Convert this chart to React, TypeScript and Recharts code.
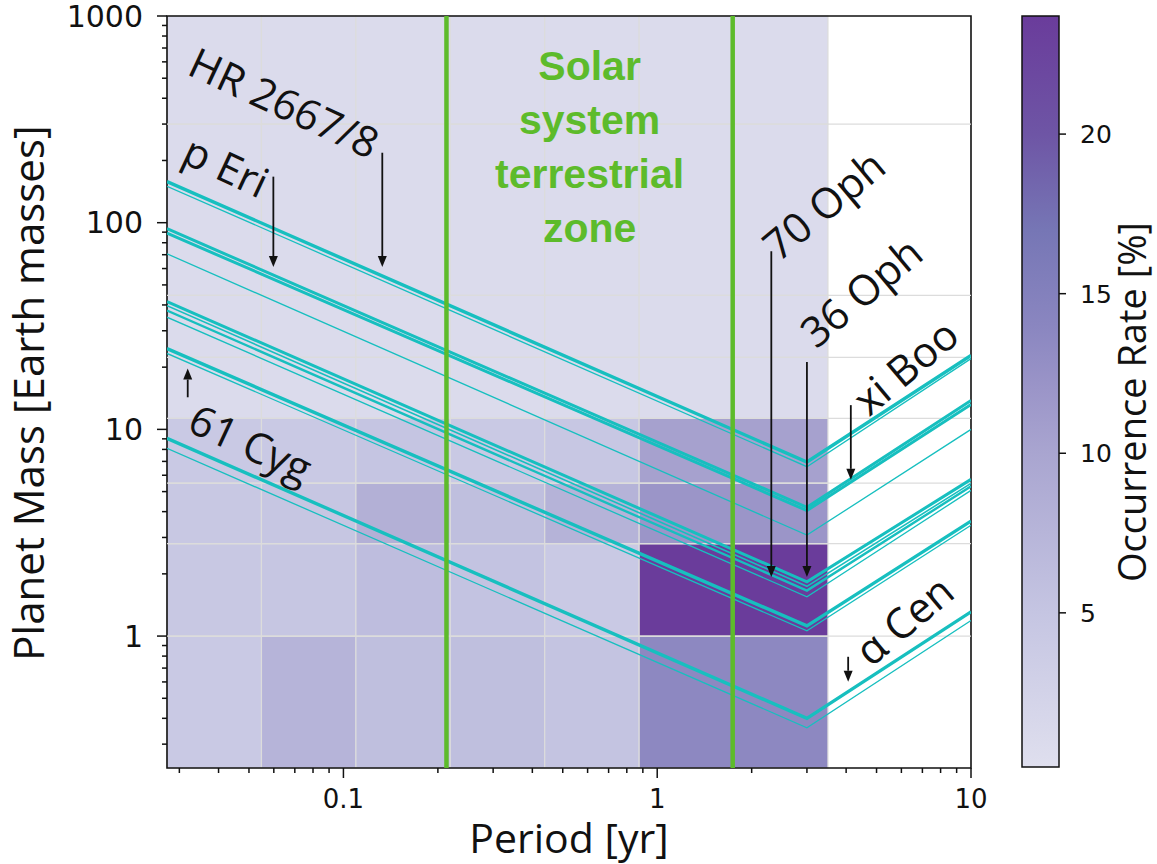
import React from 'react';
import {
  ComposedChart,
  Line,
  XAxis,
  YAxis,
  ReferenceArea,
  ReferenceLine,
  ReferenceDot,
} from 'recharts';

// Occurrence grid: period bins [yr] (10, 20, 40 ... 1280 days) and mass bins [Earth masses]
const periodEdges = [0.0274, 0.0548, 0.1096, 0.219, 0.438, 0.876, 1.75, 3.5];
const massEdges = [0.23, 1, 2.8, 5.5, 11.3, 22.3, 44.5, 300, 1000];

// occurrence rate [%] per mass bin, one value per period bin
const occMass0 = [4.3, 7.6, 6.0, 6.0, 5.2, 13.7, 13.7];
const occMass1 = [4.5, 4.8, 6.2, 5.3, 4.3, 23.7, 23.7];
const occMass2 = [4.5, 4.8, 8.3, 6.0, 7.8, 12.0, 12.0];
const occMass3 = [4.2, 4.2, 5.0, 4.3, 4.6, 10.5, 10.5];
const occMass4 = [1.0, 1.0, 1.0, 1.0, 1.0, 1.0, 1.0];
const occMass5 = [1.0, 1.0, 1.0, 1.0, 1.0, 1.0, 1.0];
const occMass6 = [1.0, 1.0, 1.0, 1.0, 1.0, 1.0, 1.0];
const occMass7 = [1.0, 1.0, 1.0, 1.0, 1.0, 1.0, 1.0];
const occurrenceRows = [occMass0, occMass1, occMass2, occMass3, occMass4, occMass5, occMass6, occMass7];

// detection-limit curves: mass at the left edge, at the turnover period and at 10 yr
const curvePeriods = [0.0274, 3.0, 10];
const curveLeft = [158, 150, 93.5, 89, 70.7, 41.5, 39.7, 37.6, 34.9, 24.6, 23.3, 9.05, 8.1];
const curveTurn = [6.95, 6.6, 4.2, 4.05, 3.08, 1.83, 1.74, 1.66, 1.55, 1.12, 1.06, 0.4, 0.36];
const curveRight = [22.8, 22.0, 13.8, 13.2, 10.0, 5.73, 5.48, 5.3, 5.07, 3.6, 3.44, 1.31, 1.19];
const curveWidth = [3.4, 1.3, 3, 3, 1.3, 3, 1.6, 2.4, 1.3, 3.4, 1.3, 3.4, 1.3];

// solar-system terrestrial zone boundaries [yr]
const zoneEdges = [0.213, 1.74];
const zoneLines = ['Solar', 'system', 'terrestrial', 'zone'];

// star labels and the arrows pointing at their curves
const starNames = ['HR 2667/8', 'p Eri', '61 Cyg', '70 Oph', '36 Oph', 'xi Boo', 'α Cen'];
const starLabelPeriod = [0.0314, 0.0301, 0.0314, 2.44, 3.21, 4.73, 4.8];
const starLabelMass = [525, 197, 9.9, 64, 24.3, 11.4, 0.7];
const starLabelAngle = [25, 25, 25, -40, -40, -40, -40];
const arrowPeriod = [0.133, 0.0598, 0.0319, 2.31, 3.0, 4.14, 4.06];
const arrowFrom = [218, 167, 14.3, 72.8, 21.2, 13.1, 0.794];
const arrowTo = [61, 61, 19.7, 1.93, 1.93, 5.7, 0.601];

const periodTicks = [
  0.03, 0.04, 0.05, 0.06, 0.07, 0.08, 0.09, 0.1,
  0.2, 0.3, 0.4, 0.5, 0.6, 0.7, 0.8, 0.9, 1,
  2, 3, 4, 5, 6, 7, 8, 9, 10,
];
const massTicks = [
  0.3, 0.4, 0.5, 0.6, 0.7, 0.8, 0.9, 1,
  2, 3, 4, 5, 6, 7, 8, 9, 10,
  20, 30, 40, 50, 60, 70, 80, 90, 100,
  200, 300, 400, 500, 600, 700, 800, 900, 1000,
];
const colorbarTicks = [5, 10, 15, 20];

// colour map of the occurrence rate
const cmapValues = [0.17, 5, 10, 12, 14, 17, 20, 23.7];
const cmapColors = ['#dfdfee', '#c5c5e2', '#a9a5d0', '#9b95c8', '#8a86c0', '#7676b5', '#6e55a5', '#6a3c9b'];
const CMIN = cmapValues[0];
const CMAX = cmapValues[cmapValues.length - 1];

const CYAN = '#17bfbf';
const GREEN = '#5dbb2b';
const INK = '#111';
const SANS = '"Open Sans", sans-serif';
const TICK_FONT = '"DejaVu Sans", sans-serif';

const hexToRgb = (h: string) => [1, 3, 5].map((i) => parseInt(h.slice(i, i + 2), 16));

function occurrenceColor(v: number) {
  let i = 0;
  while (i < cmapValues.length - 2 && v > cmapValues[i + 1]) i++;
  const t = Math.min(1, Math.max(0, (v - cmapValues[i]) / (cmapValues[i + 1] - cmapValues[i])));
  const a = hexToRgb(cmapColors[i]);
  const b = hexToRgb(cmapColors[i + 1]);
  const c = a.map((x, k) => Math.round(x + (b[k] - x) * t));
  return `rgb(${c[0]},${c[1]},${c[2]})`;
}

const isDecade = (v: number) => Math.abs(Math.log10(v) - Math.round(Math.log10(v))) < 1e-9;

function PeriodTick({ x, y, payload }: any) {
  const major = isDecade(payload.value);
  return (
    <g>
      <line x1={x} x2={x} y1={y} y2={y + (major ? 10 : 5)} stroke={INK} strokeWidth={1.5} />
      {major && (
        <text x={x} y={y + 40} textAnchor="middle" fontFamily={TICK_FONT} fontSize={26} fill={INK}>
          {String(payload.value)}
        </text>
      )}
    </g>
  );
}

function MassTick({ x, y, payload }: any) {
  const major = isDecade(payload.value);
  return (
    <g>
      <line x1={x - (major ? 10 : 5)} x2={x} y1={y} y2={y} stroke={INK} strokeWidth={1.5} />
      {major && (
        <text x={x - 24} y={y} dy="0.36em" textAnchor="end" fontFamily={TICK_FONT} fontSize={30} fill={INK}>
          {String(payload.value)}
        </text>
      )}
    </g>
  );
}

function ColorbarTick({ x, y, payload }: any) {
  return (
    <g>
      <line x1={x} x2={x + 7} y1={y} y2={y} stroke={INK} strokeWidth={1.5} />
      <text x={x + 21} y={y} dy="0.36em" fontFamily={TICK_FONT} fontSize={25} fill={INK}>
        {String(payload.value)}
      </text>
    </g>
  );
}

function Arrow({ x1, y1, x2, y2 }: any) {
  const dir = Math.sign(y2 - y1) || 1;
  const head = 11;
  return (
    <g>
      <line x1={x1} y1={y1} x2={x2} y2={y2 - dir * head} stroke={INK} strokeWidth={1.8} />
      <polygon
        points={`${x2},${y2} ${x2 - 4.5},${y2 - dir * head} ${x2 + 4.5},${y2 - dir * head}`}
        fill={INK}
      />
    </g>
  );
}

const curves = curveLeft.map((_, i) => [
  { p: curvePeriods[0], m: curveLeft[i] },
  { p: curvePeriods[1], m: curveTurn[i] },
  { p: curvePeriods[2], m: curveRight[i] },
]);

export default function App() {
  return (
    <div style={{ position: 'absolute', left: 0, top: 0, width: 1157, height: 864, background: '#fff' }}>
      <svg width={0} height={0} style={{ position: 'absolute' }}>
        <defs>
          <linearGradient id="occurrenceGradient" x1="0" y1="1" x2="0" y2="0">
            {cmapValues.map((v, i) => (
              <stop key={v} offset={(v - CMIN) / (CMAX - CMIN)} stopColor={cmapColors[i]} />
            ))}
          </linearGradient>
        </defs>
      </svg>

      <div style={{ position: 'absolute', left: 0, top: 0 }}>
        <ComposedChart width={1000} height={864} margin={{ top: 16, right: 29, bottom: 0, left: 0 }}>
          <XAxis
            dataKey="p"
            type="number"
            scale="log"
            domain={[0.0274, 10]}
            allowDataOverflow
            ticks={periodTicks}
            interval={0}
            tickSize={0}
            tickMargin={0}
            tickLine={false}
            axisLine={false}
            tick={<PeriodTick />}
            height={96}
            label={{
              content: ({ viewBox }: any) => (
                <text
                  x={viewBox.x + viewBox.width / 2}
                  y={viewBox.y + 85}
                  textAnchor="middle"
                  fontFamily={SANS}
                  fontSize={41}
                  fill={INK}
                >
                  Period [yr]
                </text>
              ),
            }}
          />
          <YAxis
            dataKey="m"
            type="number"
            scale="log"
            domain={[0.23, 1000]}
            allowDataOverflow
            ticks={massTicks}
            interval={0}
            tickSize={0}
            tickMargin={0}
            tickLine={false}
            axisLine={false}
            tick={<MassTick />}
            width={167}
            label={{
              content: ({ viewBox }: any) => {
                const cx = viewBox.x + 44;
                const cy = viewBox.y + viewBox.height / 2 + 1;
                return (
                  <text
                    x={cx}
                    y={cy}
                    transform={`rotate(-90 ${cx} ${cy})`}
                    textAnchor="middle"
                    fontFamily={SANS}
                    fontSize={42}
                    fill={INK}
                  >
                    Planet Mass [Earth masses]
                  </text>
                );
              },
            }}
          />

          {occurrenceRows.map((row, r) =>
            row.map((v, c) => (
              <ReferenceArea
                key={`cell-${r}-${c}`}
                x1={periodEdges[c]}
                x2={periodEdges[c + 1]}
                y1={massEdges[r]}
                y2={massEdges[r + 1]}
                fill={occurrenceColor(v)}
                fillOpacity={1}
                stroke="#dcdcdc"
                strokeWidth={1.2}
                ifOverflow="visible"
              />
            )),
          )}

          {massEdges.slice(1, -1).map((m) => (
            <ReferenceLine key={`grid-${m}`} y={m} stroke="#dcdcdc" strokeWidth={1.2} />
          ))}

          {curves.map((data, i) => (
            <Line
              key={`curve-${i}`}
              data={data}
              dataKey="m"
              type="linear"
              stroke={CYAN}
              strokeWidth={curveWidth[i]}
              dot={false}
              activeDot={false}
              isAnimationActive={false}
            />
          ))}

          {zoneEdges.map((p) => (
            <ReferenceLine key={`zone-${p}`} x={p} stroke={GREEN} strokeWidth={4.5} />
          ))}

          <ReferenceDot
            x={Math.sqrt(zoneEdges[0] * zoneEdges[1])}
            y={491}
            r={1}
            ifOverflow="visible"
            shape={(p: any) => (
              <text
                x={p.cx}
                y={p.cy}
                textAnchor="middle"
                fontFamily='"Liberation Sans", Arial, sans-serif'
                fontWeight="bold"
                fontSize={41}
                fill={GREEN}
              >
                {zoneLines.map((t, i) => (
                  <tspan key={t} x={p.cx} dy={i === 0 ? 0 : 54}>
                    {t}
                  </tspan>
                ))}
              </text>
            )}
          />

          {arrowPeriod.map((p, i) => (
            <ReferenceLine
              key={`arrow-${i}`}
              segment={[
                { x: p, y: arrowFrom[i] },
                { x: p, y: arrowTo[i] },
              ]}
              ifOverflow="visible"
              shape={(props: any) => <Arrow {...props} />}
            />
          ))}

          {starNames.map((name, i) => (
            <ReferenceDot
              key={name}
              x={starLabelPeriod[i]}
              y={starLabelMass[i]}
              r={1}
              ifOverflow="visible"
              shape={(p: any) => (
                <text
                  x={p.cx}
                  y={p.cy}
                  transform={`rotate(${starLabelAngle[i]} ${p.cx} ${p.cy})`}
                  fontFamily={SANS}
                  fontSize={42}
                  fill={INK}
                >
                  {name}
                </text>
              )}
            />
          ))}

          <ReferenceArea
            x1={0.0274}
            x2={10}
            y1={0.23}
            y2={1000}
            fill="none"
            stroke={INK}
            strokeWidth={1.6}
            ifOverflow="visible"
          />
        </ComposedChart>
      </div>

      <div style={{ position: 'absolute', left: 1000, top: 0 }}>
        <ComposedChart
          width={157}
          height={864}
          margin={{ top: 16, right: 0, bottom: 97, left: 22 }}
          data={[{ x: 0 }, { x: 1 }]}
        >
          <XAxis dataKey="x" type="number" domain={[0, 1]} hide />
          <YAxis
            orientation="right"
            type="number"
            domain={[CMIN, CMAX]}
            allowDataOverflow
            ticks={colorbarTicks}
            interval={0}
            tickSize={0}
            tickMargin={0}
            tickLine={false}
            axisLine={false}
            tick={<ColorbarTick />}
            width={98}
            label={{
              content: ({ viewBox }: any) => {
                const cx = viewBox.x + 87;
                const cy = 402;
                return (
                  <text
                    x={cx}
                    y={cy}
                    transform={`rotate(-90 ${cx} ${cy})`}
                    textAnchor="middle"
                    fontFamily={SANS}
                    fontSize={38}
                    fill={INK}
                  >
                    Occurrence Rate [%]
                  </text>
                );
              },
            }}
          />
          <ReferenceArea
            x1={0}
            x2={1}
            y1={CMIN}
            y2={CMAX}
            fill="url(#occurrenceGradient)"
            fillOpacity={1}
            stroke={INK}
            strokeWidth={1.5}
            ifOverflow="visible"
          />
        </ComposedChart>
      </div>
    </div>
  );
}
